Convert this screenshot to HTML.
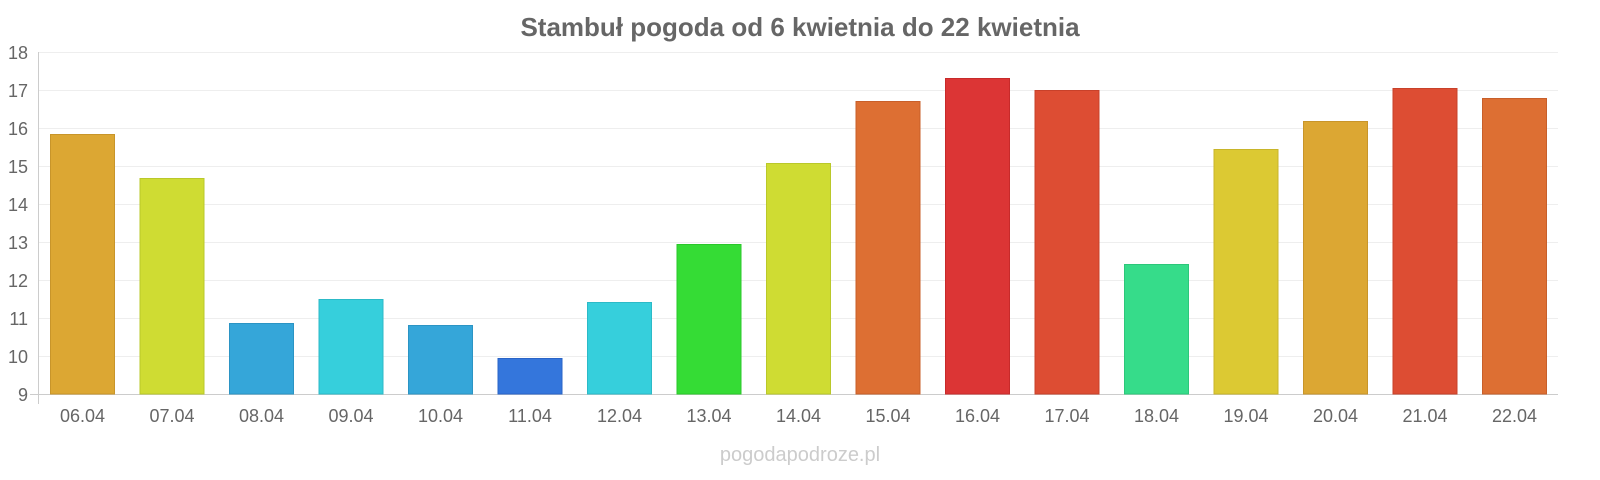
<!DOCTYPE html>
<html><head><meta charset="utf-8"><style>
body{margin:0;background:#fff;}
svg{display:block;font-family:"Liberation Sans",sans-serif;}
</style></head><body>
<svg width="1600" height="480" viewBox="0 0 1600 480">
<rect width="1600" height="480" fill="#fff"/>
<text x="800" y="36" text-anchor="middle" font-size="26" font-weight="bold" fill="#666">Stambuł pogoda od 6 kwietnia do 22 kwietnia</text>
<g stroke="#eee" stroke-width="1">
<line x1="38" x2="1558" y1="52.5" y2="52.5"/><line x1="38" x2="1558" y1="90.5" y2="90.5"/>
<line x1="38" x2="1558" y1="128.5" y2="128.5"/><line x1="38" x2="1558" y1="166.5" y2="166.5"/>
<line x1="38" x2="1558" y1="204.5" y2="204.5"/><line x1="38" x2="1558" y1="242.5" y2="242.5"/>
<line x1="38" x2="1558" y1="280.5" y2="280.5"/><line x1="38" x2="1558" y1="318.5" y2="318.5"/>
<line x1="38" x2="1558" y1="356.5" y2="356.5"/>
</g>
<line x1="38.5" x2="38.5" y1="52" y2="404" stroke="#ccc"/>
<line x1="30" x2="1558" y1="394.5" y2="394.5" stroke="#ccc"/>
<g font-size="18" fill="#666" text-anchor="end">
<text x="28" y="59">18</text><text x="28" y="97">17</text><text x="28" y="135">16</text>
<text x="28" y="173">15</text><text x="28" y="211">14</text><text x="28" y="249">13</text>
<text x="28" y="287">12</text><text x="28" y="325">11</text><text x="28" y="363">10</text>
<text x="28" y="401">9</text>
</g>
<g stroke-width="1">
<rect x="50.5" y="134.5" width="64" height="259.5" fill="#dca733" stroke="#c8952a"/>
<rect x="140" y="178.5" width="64" height="215.5" fill="#cfdc33" stroke="#bac82a"/>
<rect x="229.5" y="323.5" width="64" height="70.5" fill="#35a6d9" stroke="#2b94c4"/>
<rect x="319" y="299.5" width="64" height="94.5" fill="#36cfdc" stroke="#2cbac7"/>
<rect x="408.5" y="325.5" width="64" height="68.5" fill="#35a6d9" stroke="#2b94c4"/>
<rect x="498" y="358.5" width="64" height="35.5" fill="#3476dc" stroke="#2a64c7"/>
<rect x="587.5" y="302.5" width="64" height="91.5" fill="#36cfdc" stroke="#2cbac7"/>
<rect x="677" y="244.5" width="64" height="149.5" fill="#35dc35" stroke="#2ac72a"/>
<rect x="766.5" y="163.5" width="64" height="230.5" fill="#cfdc33" stroke="#bac82a"/>
<rect x="856" y="101.5" width="64" height="292.5" fill="#dd6f33" stroke="#c85f2a"/>
<rect x="945.5" y="78.5" width="64" height="315.5" fill="#dc3535" stroke="#c72a2a"/>
<rect x="1035" y="90.5" width="64" height="303.5" fill="#dd4d33" stroke="#c8412a"/>
<rect x="1124.5" y="264.5" width="64" height="129.5" fill="#36dc8a" stroke="#2cc77a"/>
<rect x="1214" y="149.5" width="64" height="244.5" fill="#dcc933" stroke="#c8b52a"/>
<rect x="1303.5" y="121.5" width="64" height="272.5" fill="#dca733" stroke="#c8952a"/>
<rect x="1393" y="88.5" width="64" height="305.5" fill="#dd4d33" stroke="#c8412a"/>
<rect x="1482.5" y="98.5" width="64" height="295.5" fill="#dd6f33" stroke="#c85f2a"/>
</g>
<g font-size="18" fill="#666" text-anchor="middle">
<text x="82.5" y="422">06.04</text><text x="172" y="422">07.04</text><text x="261.5" y="422">08.04</text>
<text x="351" y="422">09.04</text><text x="440.5" y="422">10.04</text><text x="530" y="422">11.04</text>
<text x="619.5" y="422">12.04</text><text x="709" y="422">13.04</text><text x="798.5" y="422">14.04</text>
<text x="888" y="422">15.04</text><text x="977.5" y="422">16.04</text><text x="1067" y="422">17.04</text>
<text x="1156.5" y="422">18.04</text><text x="1246" y="422">19.04</text><text x="1335.5" y="422">20.04</text>
<text x="1425" y="422">21.04</text><text x="1514.5" y="422">22.04</text>
</g>
<text x="800" y="461" text-anchor="middle" font-size="20" fill="#ccc">pogodapodroze.pl</text>
</svg>
</body></html>
